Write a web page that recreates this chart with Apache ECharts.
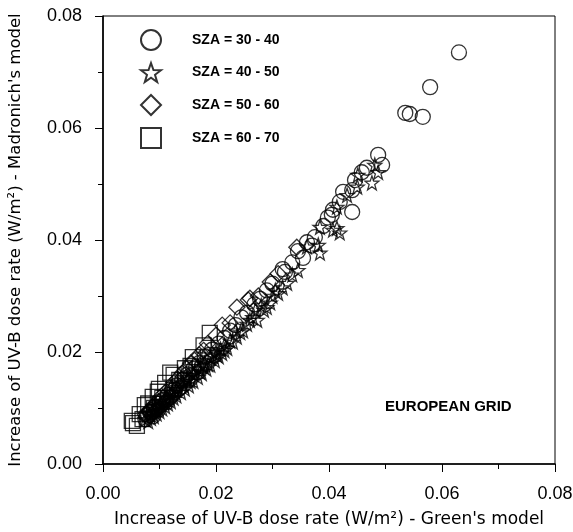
<!DOCTYPE html>
<html><head><meta charset="utf-8">
<script src="https://cdn.jsdelivr.net/npm/echarts@6/dist/echarts.min.js"></script>
<style>html,body{margin:0;padding:0;background:#fff}#c{width:573px;height:532px}</style>
</head><body><div id="c"></div>
<script>
var xTicks = ['0.00','0.02','0.04','0.06','0.08'];
var seriesNames = ['SZA = 30 - 40','SZA = 40 - 50','SZA = 50 - 60','SZA = 60 - 70'];
var sza3040 = [[0.0630,0.0735],[0.0579,0.0673],[0.0535,0.0627],[0.0543,0.0625],[0.0566,0.0620],
 [0.0487,0.0552],[0.0494,0.0534],[0.0467,0.0529],[0.0458,0.0521],[0.0446,0.0507],[0.0441,0.0489],
 [0.0425,0.0486],[0.0419,0.0468],[0.0407,0.0454],[0.0405,0.0445],[0.0441,0.0450],[0.0361,0.0396],
 [0.0370,0.0390],[0.0354,0.0368],[0.0322,0.0343],[0.0318,0.0348],[0.0290,0.0310],[0.0268,0.0285],
 [0.0245,0.0262],[0.0225,0.0238],[0.0193,0.0204],[0.0180,0.0192],[0.0170,0.0180],[0.0160,0.0170],
 [0.0150,0.0160],[0.0140,0.0150],[0.0130,0.0140],[0.0122,0.0131],[0.0115,0.0123],[0.0107,0.0115],
 [0.0100,0.0108],[0.0094,0.0102],[0.0090,0.0097],[0.0085,0.0092],[0.0080,0.0088],[0.0075,0.0080],
 [0.0083,0.0093],[0.0088,0.0085],[0.0097,0.0096],[0.0104,0.0112],[0.0112,0.0110],[0.0120,0.0120],
 [0.0127,0.0133],[0.0135,0.0135],[0.0145,0.0153],[0.0155,0.0158],[0.0165,0.0173],[0.0175,0.0175],
 [0.0188,0.0195],[0.0205,0.0215],[0.0215,0.0225],[0.0235,0.0248],[0.0255,0.0270],[0.0278,0.0295],
 [0.0300,0.0322],[0.0335,0.0360],[0.0345,0.0380],[0.0375,0.0405],[0.0390,0.0425],[0.0398,0.0440]];
var sza4050 = [[0.0080,0.0076],[0.0085,0.0082],[0.0090,0.0085],[0.0095,0.0090],[0.0100,0.0094],
 [0.0105,0.0099],[0.0110,0.0103],[0.0115,0.0108],[0.0120,0.0112],[0.0125,0.0118],[0.0130,0.0122],
 [0.0138,0.0128],[0.0145,0.0134],[0.0152,0.0140],[0.0160,0.0148],[0.0168,0.0155],[0.0175,0.0162],
 [0.0183,0.0170],[0.0190,0.0177],[0.0198,0.0185],[0.0205,0.0192],[0.0211,0.0198],[0.0220,0.0207],
 [0.0230,0.0218],[0.0237,0.0227],[0.0248,0.0238],[0.0260,0.0257],[0.0273,0.0257],[0.0285,0.0275],
 [0.0296,0.0288],[0.0310,0.0305],[0.0326,0.0323],[0.0345,0.0346],[0.0361,0.0388],[0.0381,0.0391],
 [0.0384,0.0377],[0.0384,0.0423],[0.0407,0.0418],[0.0414,0.0421],[0.0419,0.0413],[0.0414,0.0459],
 [0.0432,0.0480],[0.0450,0.0495],[0.0451,0.0516],[0.0476,0.0502],[0.0481,0.0534],[0.0487,0.0521],
 [0.0090,0.0095],[0.0100,0.0105],[0.0110,0.0112],[0.0120,0.0125],[0.0130,0.0133],[0.0140,0.0145],
 [0.0150,0.0152],[0.0160,0.0160],[0.0170,0.0170],[0.0180,0.0180],[0.0190,0.0190],[0.0200,0.0200],
 [0.0215,0.0212],[0.0235,0.0238],[0.0255,0.0250],[0.0270,0.0275],[0.0300,0.0300],
 [0.0075,0.0080],[0.0082,0.0088],[0.0088,0.0090],[0.0093,0.0098],[0.0098,0.0100],[0.0103,0.0108],
 [0.0108,0.0110],[0.0113,0.0117],[0.0118,0.0119],[0.0123,0.0128],[0.0128,0.0128],[0.0133,0.0137],
 [0.0143,0.0140],[0.0148,0.0150],[0.0155,0.0148],[0.0163,0.0165],[0.0172,0.0165],[0.0178,0.0175],
 [0.0186,0.0178],[0.0195,0.0193],[0.0202,0.0195],[0.0208,0.0205],[0.0215,0.0203],[0.0225,0.0220],
 [0.0243,0.0235],[0.0265,0.0262],[0.0280,0.0283],[0.0290,0.0280],[0.0305,0.0310],[0.0318,0.0315],
 [0.0335,0.0338]];
var sza5060 = [[0.0343,0.0387],[0.0310,0.0340],[0.0296,0.0325],[0.0275,0.0300],[0.0260,0.0296],
 [0.0257,0.0293],[0.0237,0.0280],[0.0225,0.0252],[0.0211,0.0248],[0.0200,0.0230],[0.0185,0.0215],
 [0.0170,0.0195],[0.0155,0.0180],[0.0140,0.0162],[0.0125,0.0145],[0.0110,0.0128],[0.0095,0.0110],
 [0.0085,0.0097],[0.0075,0.0088],[0.0080,0.0095],[0.0090,0.0105],[0.0100,0.0118],[0.0118,0.0135],
 [0.0132,0.0152],[0.0148,0.0170],[0.0162,0.0185],[0.0178,0.0203]];
var sza6070 = [[0.0189,0.0234],[0.0178,0.0212],[0.0159,0.0191],[0.0145,0.0171],[0.0125,0.0159],
 [0.0119,0.0163],[0.0110,0.0145],[0.0099,0.0134],[0.0097,0.0129],[0.0088,0.0120],[0.0080,0.0108],
 [0.0074,0.0105],[0.0065,0.0089],[0.0053,0.0073],[0.0051,0.0077],[0.0060,0.0068],[0.0070,0.0080],
 [0.0090,0.0100],[0.0105,0.0118],[0.0135,0.0150],[0.0155,0.0175]];

var star = 'path://M50,0L61.76,33.82L97.55,34.55L69.02,56.18L79.39,90.45L50,70L20.61,90.45L30.98,56.18L2.45,34.55L38.24,33.82Z';
var FONT = 'Arial, "Liberation Sans", sans-serif';
var TFONT = '"DejaVu Sans", Arial, sans-serif';
function mk(name, data, symbol, size) {
  return {
    name: name, type: 'scatter', data: data, symbol: symbol, symbolSize: size,
    itemStyle: { color: 'rgba(255,255,255,0)', borderColor: '#000', borderWidth: 1.3 },
    emphasis: { disabled: true }, silent: true
  };
}
var chart = echarts.init(document.getElementById('c'), null, { renderer: 'canvas' });
chart.setOption({
  animation: false,
  backgroundColor: '#fff',
  grid: { left: 103, right: 18, top: 16, bottom: 68, show: true, borderColor: '#000', borderWidth: 1,
          containLabel: false, outerBoundsMode: 'none' },
  legend: {
    orient: 'vertical', left: 135, top: 24, itemWidth: 20, itemHeight: 20, itemGap: 11,
    data: seriesNames,
    textStyle: { fontFamily: FONT, fontSize: 14, fontWeight: 'bold', color: '#000', padding: [0, 0, 0, 26] }
  },
  xAxis: {
    type: 'value', min: 0, max: 0.08, interval: 0.02,
    name: 'Increase of UV-B dose rate (W/m²) - Green\'s model',
    nameLocation: 'middle', nameGap: 47,
    nameTextStyle: { fontFamily: TFONT, fontSize: 17, color: '#000' },
    axisLine: { show: true, lineStyle: { color: '#000', width: 1.6 } },
    axisTick: { show: true, inside: false, length: 8, lineStyle: { color: '#000' } },
    minorTick: { show: true, splitNumber: 2, length: 5, lineStyle: { color: '#000' } },
    splitLine: { show: false },
    axisLabel: { fontFamily: FONT, fontSize: 18, color: '#000', margin: 21,
      formatter: function (v) { return xTicks[Math.round(v / 0.02)]; } }
  },
  yAxis: {
    type: 'value', min: 0, max: 0.08, interval: 0.02,
    name: 'Increase of UV-B dose rate (W/m²) - Madronich\'s model',
    nameLocation: 'middle', nameGap: 79, nameRotate: 90,
    nameTextStyle: { fontFamily: TFONT, fontSize: 16.5, color: '#000' },
    axisLine: { show: true, lineStyle: { color: '#000', width: 1.6 } },
    axisTick: { show: true, inside: false, length: 8, lineStyle: { color: '#000' } },
    minorTick: { show: true, splitNumber: 2, length: 5, lineStyle: { color: '#000' } },
    splitLine: { show: false },
    axisLabel: { fontFamily: FONT, fontSize: 18, color: '#000', margin: 21,
      formatter: function (v) { return xTicks[Math.round(v / 0.02)]; } }
  },
  graphic: [{
    type: 'text', left: 385, top: 399,
    style: { text: 'EUROPEAN GRID', fontFamily: FONT, fontSize: 15, fontWeight: 'bold', fill: '#000' }
  }],
  series: [
    mk(seriesNames[0], sza3040, 'circle', 15),
    mk(seriesNames[1], sza4050, star, 14),
    mk(seriesNames[2], sza5060, 'diamond', 16),
    mk(seriesNames[3], sza6070, 'rect', 15)
  ]
});
</script></body></html>
